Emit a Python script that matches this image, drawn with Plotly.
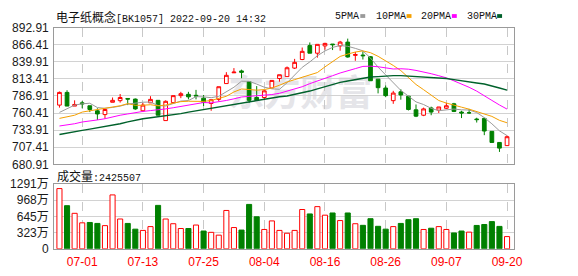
import plotly.graph_objects as go

# ---------------- data ----------------
dates = ["06-28", "06-29", "06-30", "07-01", "07-04", "07-05", "07-06", "07-07", "07-08", "07-11",
         "07-12", "07-13", "07-14", "07-15", "07-18", "07-19", "07-20", "07-21", "07-22", "07-25",
         "07-26", "07-27", "07-28", "07-29", "08-01", "08-02", "08-03", "08-04", "08-05", "08-08",
         "08-09", "08-10", "08-11", "08-12", "08-15", "08-16", "08-17", "08-18", "08-19", "08-22",
         "08-23", "08-24", "08-25", "08-26", "08-29", "08-30", "08-31", "09-01", "09-02", "09-05",
         "09-06", "09-07", "09-08", "09-09", "09-13", "09-14", "09-15", "09-16", "09-19", "09-20"]

opens = [772.7, 792.4, 771.2, 776.2, 771.7, 763.9, 758.0, 777.1, 779.6, 783.0,
         782.0, 763.9, 776.2, 780.1, 748.7, 776.6, 787.4, 789.4, 787.9, 783.5,
         775.2, 781.6, 806.1, 822.8, 825.7, 809.0, 784.5, 784.5, 799.2, 813.9,
         816.9, 830.1, 843.4, 865.0, 853.2, 864.5, 867.4, 864.5, 870.4, 849.8,
         850.3, 847.8, 813.0, 799.2, 779.6, 793.3, 786.5, 765.4, 757.0, 768.3,
         764.9, 767.8, 774.7, 761.9, 760.9, 751.1, 752.1, 732.0, 714.8, 709.9]
highs = [793.8, 795.8, 780.1, 779.1, 771.7, 767.8, 765.9, 784.5, 789.9, 783.0,
         783.0, 776.2, 786.5, 780.1, 780.1, 787.4, 793.3, 793.3, 796.3, 788.4,
         781.1, 801.2, 823.8, 830.1, 827.7, 810.0, 802.2, 795.8, 811.0, 819.8,
         832.6, 844.4, 862.0, 869.9, 866.9, 869.4, 867.4, 872.3, 875.8, 855.2,
         856.1, 848.8, 813.0, 803.1, 794.8, 797.3, 787.0, 773.7, 768.8, 770.3,
         769.8, 776.2, 776.2, 763.9, 766.8, 753.1, 753.1, 732.0, 715.3, 725.6]
lows = [768.8, 771.2, 771.2, 767.8, 761.9, 749.7, 751.6, 777.1, 776.6, 772.7,
        765.4, 761.9, 776.2, 757.0, 748.7, 776.6, 783.5, 781.6, 781.6, 771.2,
        763.9, 778.6, 806.1, 822.8, 814.4, 776.2, 779.6, 781.6, 799.2, 809.0,
        816.9, 828.7, 842.4, 853.2, 846.3, 858.6, 858.1, 857.1, 846.3, 841.4,
        843.4, 810.5, 790.9, 785.0, 774.7, 781.1, 764.4, 754.1, 755.6, 757.0,
        760.5, 766.8, 761.9, 752.6, 759.0, 745.7, 726.1, 714.8, 700.1, 709.9]
closes = [792.4, 771.2, 773.7, 774.7, 765.9, 759.0, 765.9, 780.1, 784.5, 782.0,
          766.8, 772.7, 781.6, 757.0, 778.6, 787.4, 790.4, 785.5, 786.9, 777.1,
          781.1, 801.2, 818.9, 823.8, 823.6, 780.1, 779.9, 794.8, 811.0, 819.8,
          830.6, 839.0, 856.1, 853.2, 866.9, 868.4, 866.4, 870.4, 847.3, 851.2,
          849.3, 810.5, 799.7, 787.4, 791.4, 788.4, 765.9, 755.6, 766.8, 761.9,
          769.8, 771.7, 762.9, 760.5, 760.7, 750.2, 732.5, 714.8, 706.0, 723.7]

ma5 = [761.4, 766.8, 772.7, 774.7, 775.6, 768.9, 767.8, 769.1, 771.1, 774.3,
       775.9, 777.2, 777.5, 772.0, 771.3, 775.5, 779.0, 779.8, 785.8, 785.5,
       784.2, 786.4, 793.0, 800.4, 809.8, 809.6, 805.3, 800.5, 798.0, 797.2,
       807.3, 819.0, 831.3, 839.7, 849.2, 856.7, 862.2, 865.1, 863.9, 860.7,
       856.9, 845.7, 831.6, 819.6, 807.7, 795.5, 786.6, 777.7, 773.6, 767.7,
       764.0, 765.2, 766.6, 765.4, 765.1, 761.2, 753.3, 743.7, 732.8, 725.4]
ma10 = [752.1, 754.6, 757.0, 761.9, 763.9, 764.9, 766.8, 768.8, 771.7, 775.0,
        772.4, 772.5, 773.3, 771.6, 772.8, 775.7, 778.1, 778.7, 778.9, 778.4,
        779.9, 782.7, 786.4, 793.1, 797.7, 796.9, 795.9, 796.8, 799.2, 803.5,
        808.5, 812.2, 815.9, 818.9, 823.2, 832.0, 840.6, 848.2, 851.8, 855.0,
        856.8, 854.0, 848.4, 841.8, 834.2, 826.2, 816.2, 804.7, 796.6, 787.7,
        779.8, 775.9, 772.2, 769.5, 766.4, 762.6, 759.3, 755.2, 749.1, 745.3]
ma20 = [740.3, 741.8, 743.8, 746.5, 748.7, 749.7, 751.6, 754.5, 757.0, 759.0,
        761.2, 762.9, 764.2, 765.2, 766.8, 768.6, 770.6, 772.5, 774.3, 776.7,
        776.2, 777.6, 779.9, 782.4, 785.3, 786.3, 787.0, 787.8, 789.1, 791.0,
        794.2, 797.5, 801.2, 806.0, 810.5, 814.5, 818.3, 822.5, 825.5, 829.3,
        832.7, 833.1, 832.2, 830.4, 828.7, 829.1, 828.4, 826.5, 824.2, 821.4,
        818.3, 815.0, 810.3, 805.7, 800.3, 794.4, 787.8, 780.0, 772.9, 766.5]
ma30 = [727.1, 729.5, 731.5, 733.5, 735.4, 737.4, 739.4, 741.3, 743.8, 746.7,
        749.7, 751.6, 753.1, 754.6, 756.0, 757.5, 759.5, 761.9, 763.9, 765.4,
        768.3, 770.3, 772.2, 774.2, 776.2, 778.1, 779.6, 781.6, 783.5, 785.6,
        786.9, 789.1, 791.9, 794.5, 797.9, 801.5, 804.9, 807.9, 810.0, 812.3,
        815.1, 816.3, 816.9, 817.9, 818.4, 818.4, 817.6, 816.6, 815.9, 815.4,
        815.0, 814.0, 812.2, 810.1, 807.9, 806.9, 805.4, 802.7, 799.2, 796.0]

volume_wan = [1197, 857, 705, 516, 523, 504, 460, 1071, 592, 504,
              390, 365, 441, 863, 592, 498, 403, 403, 472, 353,
              327, 271, 762, 422, 372, 882, 636, 384, 554, 365,
              309, 365, 781, 693, 838, 668, 712, 561, 712, 498,
              466, 598, 447, 390, 441, 504, 579, 598, 384, 409,
              441, 384, 315, 353, 331, 464, 483, 540, 445, 242.55]

price_ticks = [680.91, 707.41, 733.91, 760.41, 786.91, 813.41, 839.91, 866.41, 892.91]
vol_ticks = [0, 322.75, 645.5, 968.25, 1291]
vol_tick_text = ["0", "323万", "645万", "968万", "1291万"]
date_ticks = ["07-01", "07-13", "07-25", "08-04", "08-16", "08-26", "09-07", "09-20"]

board_name = "电子纸概念"
board_code = "[BK1057]"
timestamp = "2022-09-20 14:32"
volume_label = "成交量"
last_volume = "2425507"
ma_names = ["5PMA", "10PMA", "20PMA", "30PMA"]
watermark = "东方财富"

# ---------------- styling ----------------
W, H = 578, 276
RED = "#ff0000"
GREEN = "#008000"
MA_COLORS = ["#9a9a9a", "#f5a000", "#ff00ff", "#00612b"]
MA_WIDTHS = [1, 1, 1, 1.4]
FRAME = "#9a9a9a"
GRID = "#d2d2d2"
CJK = "Noto Sans CJK SC"
MONO = "Liberation Mono"


def fx(px):
    return px / W


def fy(px):
    return 1 - px / H


X_DOM = [fx(55), fx(522)]
XR = [-0.7, 59.9]

fig = go.Figure()

fig.add_trace(go.Candlestick(
    x=dates, open=opens, high=highs, low=lows, close=closes,
    xaxis="x", yaxis="y", whiskerwidth=0,
    increasing=dict(line=dict(color=RED, width=1), fillcolor="#ffffff"),
    decreasing=dict(line=dict(color=GREEN, width=1), fillcolor=GREEN),
    showlegend=False, hoverinfo="skip"))

for vals, col, w in zip([ma5, ma10, ma20, ma30], MA_COLORS, MA_WIDTHS):
    fig.add_trace(go.Scatter(x=dates, y=vals, mode="lines", xaxis="x", yaxis="y",
                             line=dict(color=col, width=w), showlegend=False,
                             hoverinfo="skip"))

vol_up = []
for i, c in enumerate(closes):
    ref = closes[i - 1] if i > 0 else opens[0]
    vol_up.append(c >= ref)

fig.add_trace(go.Bar(
    x=dates, y=volume_wan, xaxis="x2", yaxis="y2",
    marker=dict(color=["#ffffff" if u else GREEN for u in vol_up],
                line=dict(color=[RED if u else GREEN for u in vol_up], width=1)),
    showlegend=False, hoverinfo="skip"))

axis_common = dict(showline=True, linecolor=FRAME, linewidth=1, mirror=True,
                   zeroline=False, fixedrange=True)

fig.update_layout(
    width=W, height=H, autosize=False,
    margin=dict(l=0, r=0, t=0, b=0),
    paper_bgcolor="#ffffff", plot_bgcolor="#ffffff",
    bargap=0.33,
    xaxis=dict(domain=X_DOM, anchor="y", type="category", range=XR,
               tickmode="array", tickvals=date_ticks, showticklabels=False,
               showgrid=True, gridcolor="#c8c8c8", griddash="dash", gridwidth=1,
               rangeslider=dict(visible=False), ticks="", **axis_common),
    yaxis=dict(domain=[fy(165.7), fy(21.7)], anchor="x", range=[price_ticks[0], price_ticks[-1]],
               tickmode="array", tickvals=price_ticks,
               ticktext=[f"{v:.2f}" for v in price_ticks],
               tickfont=dict(family="Liberation Sans, Arial", size=12, color="#1a1a1a"),
               showgrid=True, gridcolor=GRID, gridwidth=1, ticks="",
               ticklabelstandoff=2, **axis_common),
    xaxis2=dict(domain=X_DOM, anchor="y2", type="category", range=XR,
                tickmode="array", tickvals=date_ticks, ticktext=date_ticks,
                tickfont=dict(family="Liberation Sans, Arial", size=12, color=RED),
                showgrid=True, gridcolor="#c8c8c8", griddash="dash", gridwidth=1,
                ticks="", ticklabelstandoff=2, **axis_common),
    yaxis2=dict(domain=[fy(254.7), fy(186.3)], anchor="x2", range=[0, vol_ticks[-1]],
                tickmode="array", tickvals=vol_ticks, ticktext=vol_tick_text,
                tickfont=dict(family="Liberation Sans, " + CJK, size=12, color="#1a1a1a"),
                showgrid=True, gridcolor=GRID, gridwidth=1, ticks="",
                ticklabelstandoff=2, **axis_common),
)

# watermark (beneath the data)
fig.add_shape(type="rect", xref="paper", yref="paper",
              x0=fx(225), x1=fx(385), y0=fy(115), y1=fy(72),
              line=dict(width=0), fillcolor="rgba(0,0,0,0)", layer="below",
              label=dict(text=watermark, textposition="middle center",
                         font=dict(family=CJK, size=36, color="#e5e5e9", weight="bold")))

ann = []
ann.append(dict(xref="paper", yref="paper", x=fx(55), y=fy(9.5), xanchor="left", yanchor="middle",
                showarrow=False,
                text=(f'{board_name}<span style="font-family:{MONO};font-size:10px">'
                      f'{board_code} {timestamp}</span>'),
                font=dict(family=CJK, size=12, color="#111111")))
ann.append(dict(xref="paper", yref="paper", x=fx(56), y=fy(178), xanchor="left", yanchor="middle",
                showarrow=False,
                text=(f'{volume_label}<span style="font-family:{MONO};font-size:10px">'
                      f':{last_volume}</span>'),
                font=dict(family=CJK, size=12, color="#111111")))

legend_text_x = [338.5, 380, 426, 472]
legend_sq_x = [366, 413, 459, 505]
for name, col, tx, sx in zip(ma_names, MA_COLORS, legend_text_x, legend_sq_x):
    ann.append(dict(xref="paper", yref="paper", x=fx(tx), y=fy(9.5), xanchor="left",
                    yanchor="middle", showarrow=False, text=name,
                    font=dict(family=MONO, size=10, color="#111111")))
    fig.add_shape(type="rect", xref="paper", yref="paper",
                  x0=fx(sx), x1=fx(sx + 5), y0=fy(11.5), y1=fy(7.5),
                  line=dict(width=0), fillcolor=col)

fig.update_layout(annotations=ann)

fig.write_html("out.html")
